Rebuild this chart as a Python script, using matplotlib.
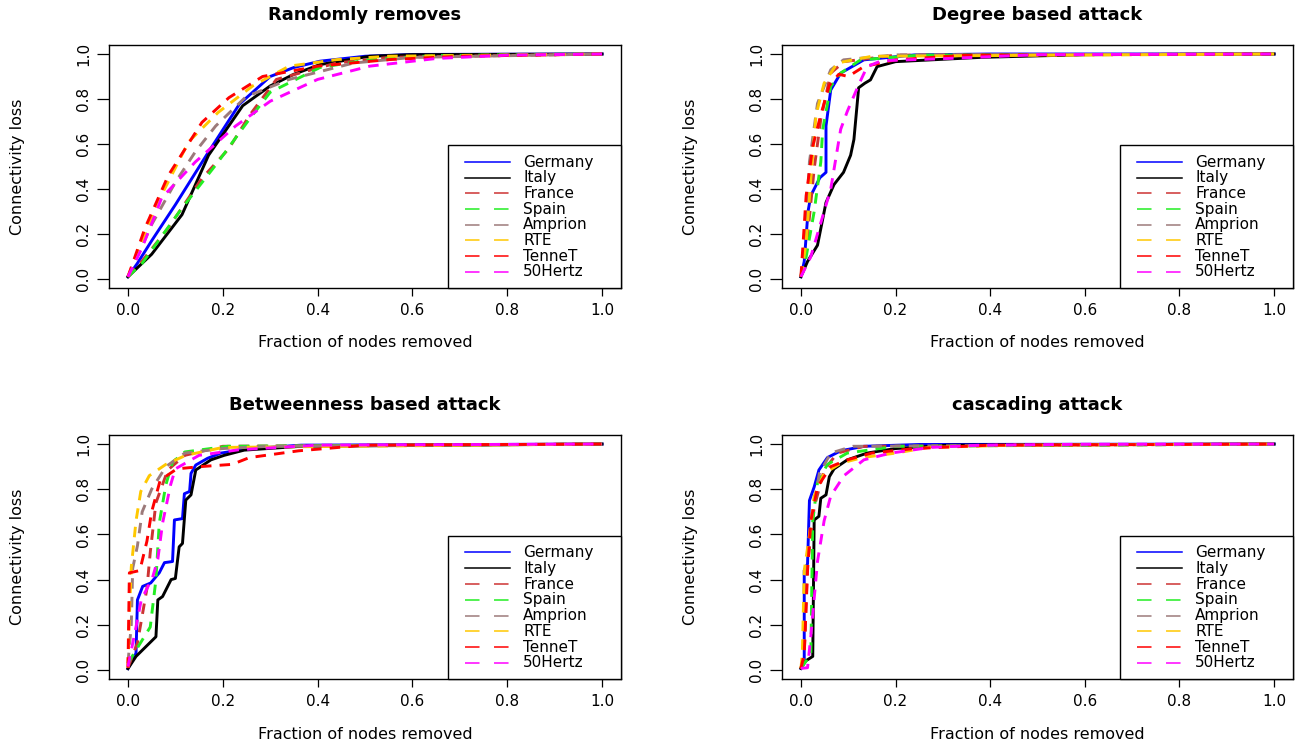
import matplotlib.pyplot as plt
from matplotlib.lines import Line2D
from matplotlib.patches import Rectangle

plt.rcParams['font.family'] = ['DejaVu Sans']

countries = ["Germany", "Italy", "France", "Spain", "Amprion", "RTE", "TenneT", "50Hertz"]
colors = ["#0000FF", "#000000", "#CD3333", "#22EE22", "#9C7A7A", "#FFC800", "#FF0000", "#FF00FF"]
solid = [True, True, False, False, False, False, False, False]
titles = ["Randomly removes", "Degree based attack", "Betweenness based attack", "cascading attack"]

# --- Randomly removes ---
random_germany_x = [0, 0.02, 0.05, 0.1, 0.17, 0.235, 0.3, 0.35, 0.405, 0.5, 0.6, 1.0]
random_germany_y = [0.01, 0.07, 0.17, 0.33, 0.565, 0.777, 0.9, 0.94, 0.968, 0.99, 0.998, 1.0]
random_italy_x = [0, 0.02, 0.05, 0.114, 0.17, 0.242, 0.3, 0.35, 0.405, 0.51, 0.6, 1.0]
random_italy_y = [0.01, 0.05, 0.11, 0.286, 0.55, 0.77, 0.858, 0.91, 0.953, 0.99, 0.997, 1.0]
random_france_x = [0, 0.03, 0.085, 0.156, 0.213, 0.256, 0.313, 0.44, 0.55, 1.0]
random_france_y = [0.01, 0.08, 0.227, 0.447, 0.58, 0.726, 0.887, 0.96, 0.985, 1.0]
random_spain_x = [0, 0.03, 0.114, 0.19, 0.256, 0.3, 0.405, 0.51, 0.65, 1.0]
random_spain_y = [0.01, 0.07, 0.315, 0.52, 0.71, 0.83, 0.94, 0.975, 0.993, 1.0]
random_amprion_x = [0, 0.02, 0.05, 0.1, 0.142, 0.185, 0.249, 0.34, 0.476, 0.6, 1.0]
random_amprion_y = [0.01, 0.1, 0.242, 0.43, 0.565, 0.68, 0.81, 0.887, 0.96, 0.985, 1.0]
random_rte_x = [0, 0.03, 0.071, 0.128, 0.19, 0.263, 0.34, 0.44, 0.55, 1.0]
random_rte_y = [0.01, 0.17, 0.374, 0.61, 0.74, 0.858, 0.946, 0.975, 0.99, 1.0]
random_tennet_x = [0, 0.036, 0.085, 0.156, 0.213, 0.284, 0.4, 0.55, 0.7, 1.0]
random_tennet_y = [0.01, 0.227, 0.46, 0.696, 0.806, 0.9, 0.946, 0.975, 0.99, 1.0]
random_50hertz_x = [0, 0.03, 0.071, 0.142, 0.227, 0.3, 0.4, 0.51, 0.65, 0.8, 1.0]
random_50hertz_y = [0.01, 0.14, 0.36, 0.52, 0.68, 0.79, 0.887, 0.946, 0.98, 0.995, 1.0]

# --- Degree based attack ---
degree_germany_x = [0, 0.007, 0.015, 0.021, 0.04, 0.053, 0.053, 0.063, 0.084, 0.133, 0.24, 0.4, 1.0]
degree_germany_y = [0.01, 0.078, 0.3, 0.371, 0.45, 0.474, 0.68, 0.84, 0.915, 0.974, 0.996, 1.0, 1.0]
degree_italy_x = [0, 0.014, 0.035, 0.053, 0.07, 0.09, 0.105, 0.112, 0.122, 0.135, 0.147, 0.161, 0.2, 0.38, 0.6, 1.0]
degree_italy_y = [0.01, 0.078, 0.15, 0.34, 0.42, 0.474, 0.55, 0.62, 0.85, 0.87, 0.885, 0.944, 0.966, 0.985, 0.997, 1.0]
degree_france_x = [0, 0.014, 0.028, 0.042, 0.063, 0.091, 0.2, 1.0]
degree_france_y = [0.01, 0.19, 0.49, 0.71, 0.915, 0.966, 0.995, 1.0]
degree_spain_x = [0, 0.007, 0.028, 0.042, 0.046, 0.063, 0.084, 0.126, 0.25, 1.0]
degree_spain_y = [0.01, 0.05, 0.3, 0.52, 0.665, 0.856, 0.915, 0.974, 0.995, 1.0]
degree_amprion_x = [0, 0.011, 0.018, 0.035, 0.063, 0.09, 0.2, 1.0]
degree_amprion_y = [0.01, 0.22, 0.52, 0.78, 0.93, 0.974, 0.996, 1.0]
degree_rte_x = [0, 0.011, 0.021, 0.032, 0.049, 0.077, 0.15, 1.0]
degree_rte_y = [0.01, 0.16, 0.45, 0.73, 0.87, 0.96, 0.99, 1.0]
degree_tennet_x = [0, 0.011, 0.025, 0.042, 0.06, 0.08, 0.1, 0.133, 0.2, 0.35, 1.0]
degree_tennet_y = [0.01, 0.37, 0.59, 0.73, 0.86, 0.91, 0.9, 0.944, 0.974, 0.995, 1.0]
degree_50hertz_x = [0, 0.021, 0.063, 0.084, 0.098, 0.122, 0.14, 0.17, 0.31, 0.5, 1.0]
degree_50hertz_y = [0.01, 0.1, 0.4, 0.665, 0.745, 0.863, 0.944, 0.97, 0.98, 0.997, 1.0]

# --- Betweenness based attack ---
betw_germany_x = [0, 0.017, 0.02, 0.031, 0.048, 0.066, 0.077, 0.094, 0.098, 0.115, 0.119, 0.13, 0.133, 0.143, 0.168, 0.196, 0.259, 0.365, 1.0]
betw_germany_y = [0.006, 0.074, 0.31, 0.37, 0.385, 0.43, 0.475, 0.48, 0.664, 0.67, 0.78, 0.79, 0.87, 0.907, 0.937, 0.96, 0.98, 0.995, 1.0]
betw_italy_x = [0, 0.017, 0.059, 0.063, 0.073, 0.091, 0.1, 0.108, 0.115, 0.122, 0.133, 0.143, 0.175, 0.203, 0.245, 0.365, 1.0]
betw_italy_y = [0.006, 0.06, 0.147, 0.31, 0.325, 0.4, 0.405, 0.545, 0.56, 0.752, 0.775, 0.885, 0.93, 0.95, 0.973, 0.99, 1.0]
betw_france_x = [0, 0.02, 0.04, 0.047, 0.059, 0.084, 0.12, 0.2, 1.0]
betw_france_y = [0.01, 0.12, 0.36, 0.52, 0.74, 0.885, 0.95, 0.99, 1.0]
betw_spain_x = [0, 0.047, 0.059, 0.066, 0.08, 0.094, 0.12, 0.21, 1.0]
betw_spain_y = [0.03, 0.19, 0.4, 0.65, 0.82, 0.92, 0.965, 0.99, 1.0]
betw_amprion_x = [0, 0.007, 0.01, 0.02, 0.03, 0.05, 0.08, 0.12, 0.2, 0.3, 1.0]
betw_amprion_y = [0.03, 0.2, 0.45, 0.55, 0.7, 0.8, 0.9, 0.96, 0.98, 0.99, 1.0]
betw_rte_x = [0, 0.004, 0.007, 0.017, 0.027, 0.045, 0.08, 0.122, 0.2, 1.0]
betw_rte_y = [0.01, 0.3, 0.455, 0.66, 0.79, 0.86, 0.91, 0.95, 0.985, 1.0]
betw_tennet_x = [0, 0.003, 0.025, 0.04, 0.05, 0.068, 0.103, 0.152, 0.22, 0.256, 0.36, 0.5, 1.0]
betw_tennet_y = [0.01, 0.43, 0.44, 0.57, 0.7, 0.84, 0.89, 0.9, 0.91, 0.94, 0.97, 0.995, 1.0]
betw_50hertz_x = [0, 0.017, 0.028, 0.052, 0.063, 0.073, 0.09, 0.1, 0.15, 0.235, 0.4, 1.0]
betw_50hertz_y = [0.015, 0.19, 0.31, 0.41, 0.49, 0.65, 0.82, 0.89, 0.95, 0.975, 0.995, 1.0]

# --- cascading attack ---
casc_germany_x = [0, 0.007, 0.007, 0.014, 0.018, 0.028, 0.038, 0.056, 0.084, 0.133, 0.25, 1.0]
casc_germany_y = [0.007, 0.04, 0.44, 0.47, 0.75, 0.81, 0.885, 0.94, 0.97, 0.99, 0.998, 1.0]
casc_italy_x = [0, 0.01, 0.025, 0.028, 0.038, 0.042, 0.053, 0.06, 0.07, 0.098, 0.14, 0.2, 0.31, 1.0]
casc_italy_y = [0.007, 0.04, 0.06, 0.664, 0.68, 0.76, 0.775, 0.855, 0.89, 0.93, 0.96, 0.98, 0.995, 1.0]
casc_france_x = [0, 0.007, 0.014, 0.028, 0.049, 0.077, 0.133, 1.0]
casc_france_y = [0.007, 0.07, 0.47, 0.72, 0.885, 0.96, 0.99, 1.0]
casc_spain_x = [0, 0.021, 0.025, 0.035, 0.056, 0.098, 0.2, 1.0]
casc_spain_y = [0.007, 0.07, 0.66, 0.83, 0.91, 0.96, 0.99, 1.0]
casc_amprion_x = [0, 0.007, 0.011, 0.021, 0.039, 0.063, 0.11, 1.0]
casc_amprion_y = [0.007, 0.07, 0.44, 0.66, 0.87, 0.96, 0.99, 1.0]
casc_rte_x = [0, 0.003, 0.007, 0.021, 0.028, 0.049, 0.084, 0.13, 0.2, 0.27, 0.45, 1.0]
casc_rte_y = [0.007, 0.07, 0.44, 0.64, 0.77, 0.87, 0.915, 0.94, 0.96, 0.985, 0.995, 1.0]
casc_tennet_x = [0, 0.007, 0.014, 0.021, 0.035, 0.063, 0.098, 0.15, 0.24, 0.4, 1.0]
casc_tennet_y = [0.007, 0.07, 0.44, 0.66, 0.81, 0.9, 0.93, 0.96, 0.98, 0.995, 1.0]
casc_50hertz_x = [0, 0.014, 0.021, 0.035, 0.049, 0.063, 0.091, 0.133, 0.19, 0.274, 0.38, 0.6, 1.0]
casc_50hertz_y = [0.007, 0.01, 0.15, 0.48, 0.66, 0.77, 0.86, 0.93, 0.96, 0.985, 0.995, 0.999, 1.0]

panels = [
    [(random_germany_x, random_germany_y), (random_italy_x, random_italy_y),
     (random_france_x, random_france_y), (random_spain_x, random_spain_y),
     (random_amprion_x, random_amprion_y), (random_rte_x, random_rte_y),
     (random_tennet_x, random_tennet_y), (random_50hertz_x, random_50hertz_y)],
    [(degree_germany_x, degree_germany_y), (degree_italy_x, degree_italy_y),
     (degree_france_x, degree_france_y), (degree_spain_x, degree_spain_y),
     (degree_amprion_x, degree_amprion_y), (degree_rte_x, degree_rte_y),
     (degree_tennet_x, degree_tennet_y), (degree_50hertz_x, degree_50hertz_y)],
    [(betw_germany_x, betw_germany_y), (betw_italy_x, betw_italy_y),
     (betw_france_x, betw_france_y), (betw_spain_x, betw_spain_y),
     (betw_amprion_x, betw_amprion_y), (betw_rte_x, betw_rte_y),
     (betw_tennet_x, betw_tennet_y), (betw_50hertz_x, betw_50hertz_y)],
    [(casc_germany_x, casc_germany_y), (casc_italy_x, casc_italy_y),
     (casc_france_x, casc_france_y), (casc_spain_x, casc_spain_y),
     (casc_amprion_x, casc_amprion_y), (casc_rte_x, casc_rte_y),
     (casc_tennet_x, casc_tennet_y), (casc_50hertz_x, casc_50hertz_y)],
]

ticks = [0.0, 0.2, 0.4, 0.6, 0.8, 1.0]
tick_labels = ["0.0", "0.2", "0.4", "0.6", "0.8", "1.0"]

W, H = 1299, 746
fig = plt.figure(figsize=(W / 100, H / 100), dpi=100)

# axes boxes in pixels: left, top, right, bottom
boxes = [(109, 45, 621, 288), (782, 45, 1293, 288),
         (109, 435, 621, 679), (782, 435, 1293, 679)]

for k, (l, t, r, b) in enumerate(boxes):
    ax = fig.add_axes([l / W, 1 - b / H, (r - l) / W, (b - t) / H])
    for i, (xs, ys) in enumerate(panels[k]):
        if solid[i]:
            ax.plot(xs, ys, color=colors[i], lw=2.1)
        else:
            ax.plot(xs, ys, color=colors[i], lw=2.1, dashes=(3.6, 2.8))
    ax.set_xlim(-0.04, 1.04)
    ax.set_ylim(-0.04, 1.04)
    ax.set_xticks(ticks)
    ax.set_xticklabels(tick_labels)
    ax.set_yticks(ticks)
    ax.set_yticklabels(tick_labels, rotation=90, va='center')
    ax.tick_params(axis='x', length=6, width=0.9, pad=5, labelsize=11)
    ax.tick_params(axis='y', length=9, width=0.9, pad=4, labelsize=11)
    for s in ax.spines.values():
        s.set_linewidth(1.0)
    ax.set_title(titles[k], fontsize=13, fontweight='bold', pad=18)
    ax.set_xlabel("Fraction of nodes removed", fontsize=11.5)
    ax.xaxis.set_label_coords(0.5, -0.195)
    ax.set_ylabel("Connectivity loss", fontsize=11.5)
    ax.yaxis.set_label_coords(-0.165, 0.5)

    # legend box drawn like R's bottomright legend
    lx0, ly1 = 0.662, 0.588
    ax.add_patch(Rectangle((lx0, 0), 1 - lx0, ly1, transform=ax.transAxes,
                           facecolor='white', edgecolor='black', lw=1.0, zorder=5,
                           clip_on=False))
    row0, step = 0.5185, 0.0646
    for i, name in enumerate(countries):
        yy = row0 - i * step
        ln = Line2D([0.695, 0.783], [yy, yy], transform=ax.transAxes, color=colors[i],
                    lw=1.1, zorder=6)
        if not solid[i]:
            ln.set_dashes((9.5, 9.5))
        ax.add_line(ln)
        ax.text(0.8086, yy, name, transform=ax.transAxes, fontsize=11,
                va='center', ha='left', zorder=6)

fig.savefig("out.png", dpi=100)
